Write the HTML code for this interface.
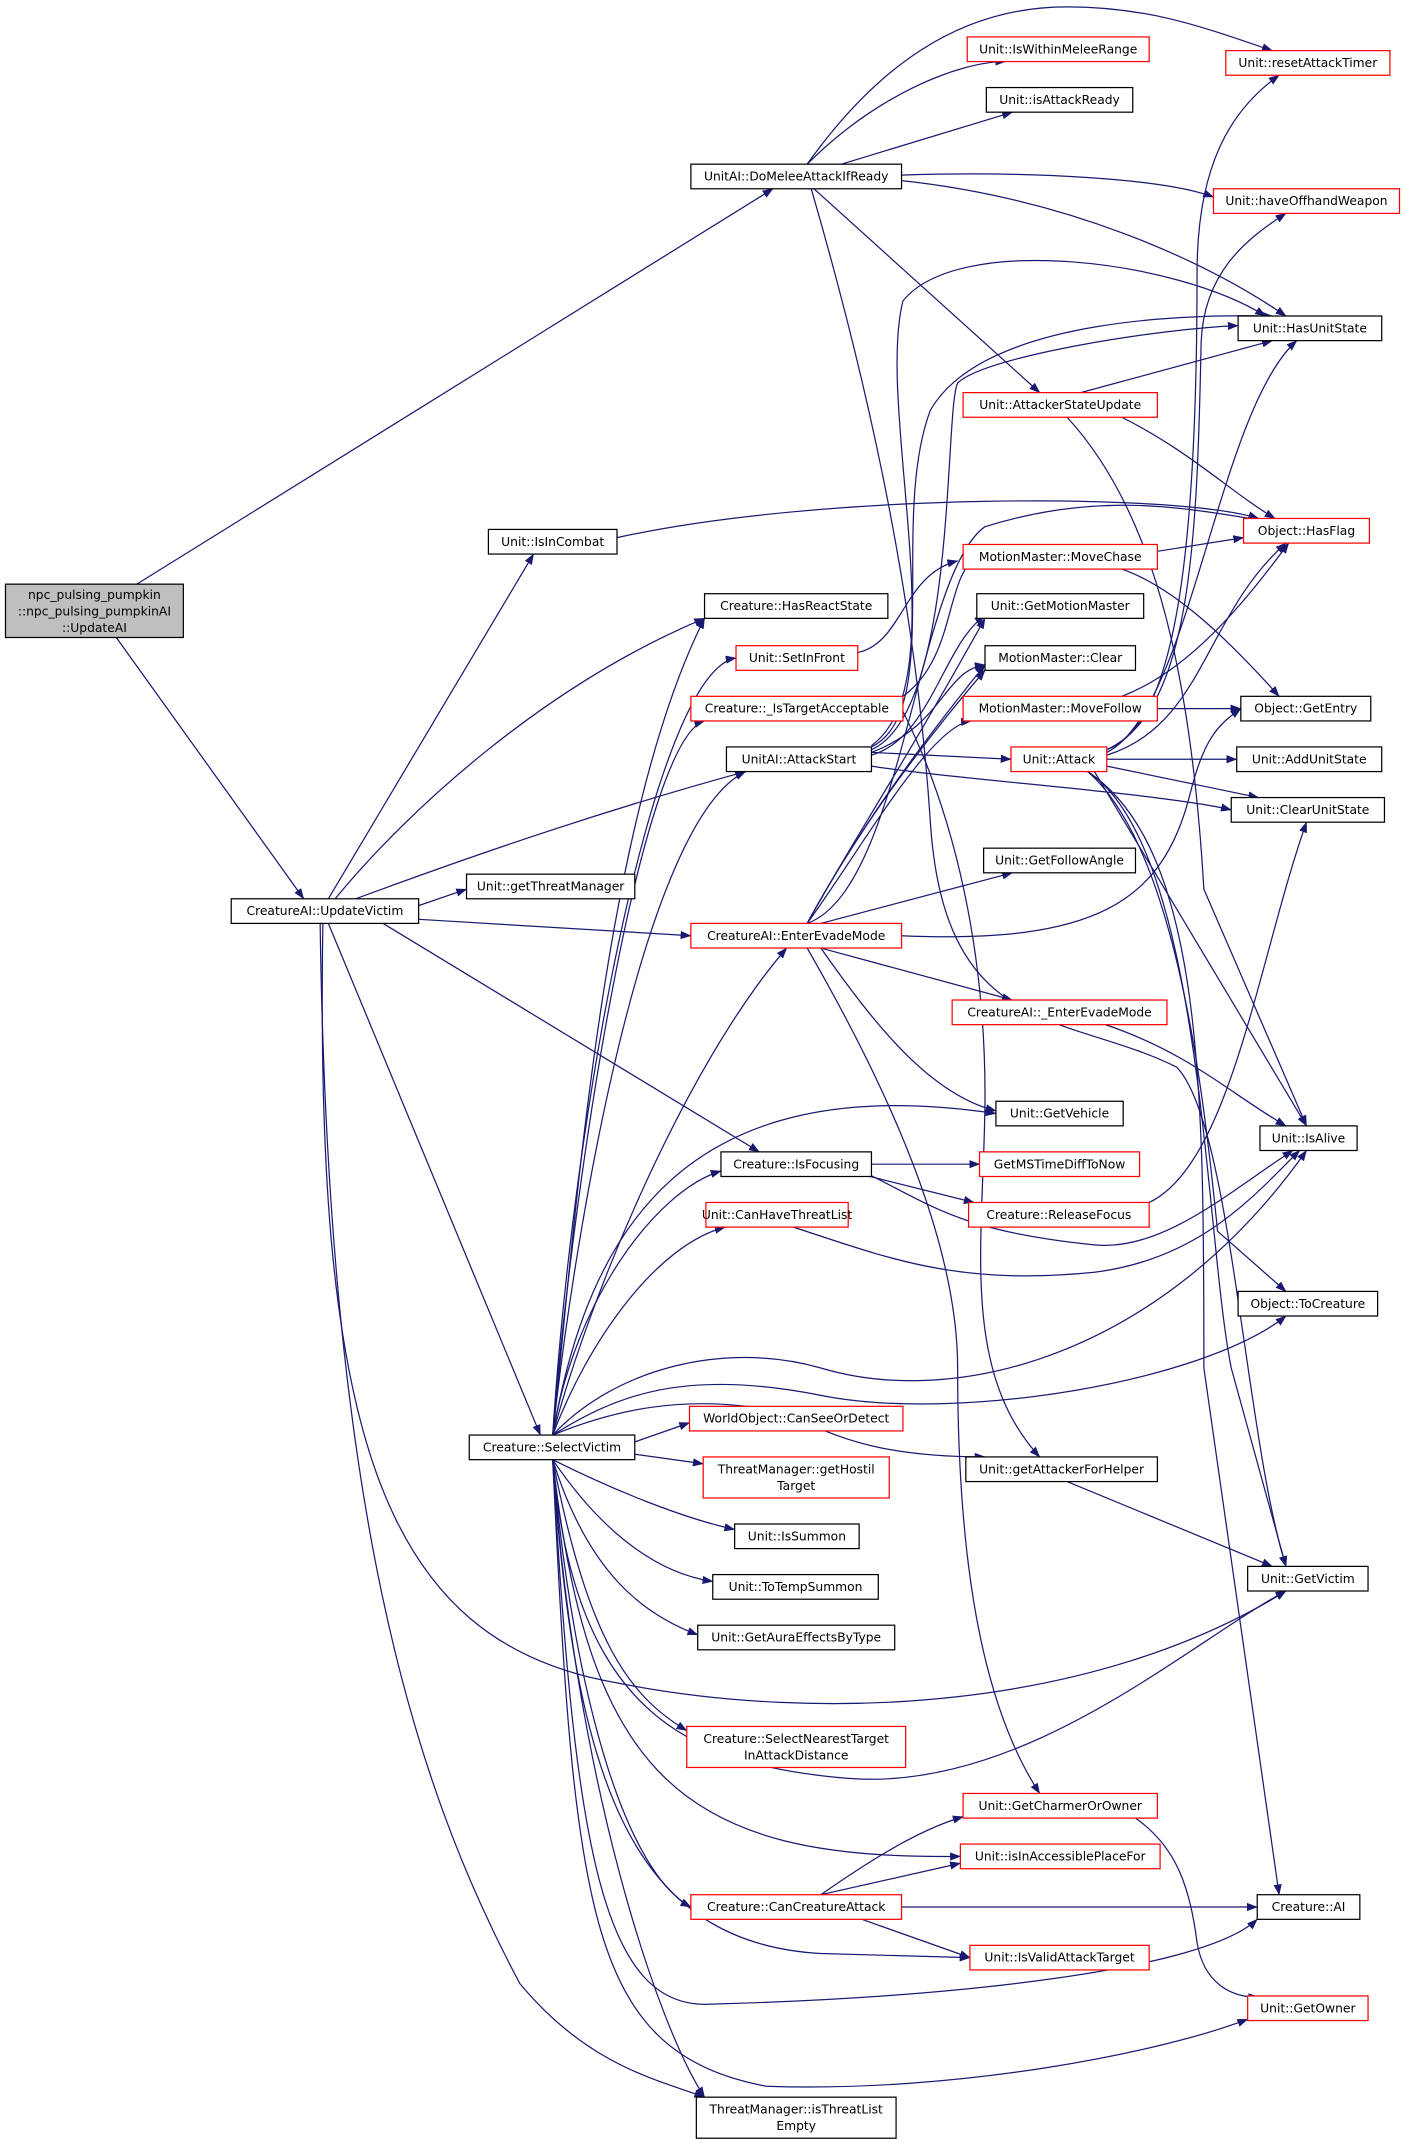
<!DOCTYPE html>
<html><head><meta charset="utf-8"><style>
html,body{margin:0;padding:0;background:#fff;}
svg{display:block;}
text{font-family:"DejaVu Sans","Liberation Sans",sans-serif;font-size:9px;fill:#000;text-anchor:middle;}
.n rect{fill:#fff;stroke:#000;stroke-width:0.9;}
.r rect{fill:#fff;stroke:#ff0000;stroke-width:0.9;}
.e path{fill:none;stroke:#191970;stroke-width:0.9;}
</style></head><body>
<svg width="1405" height="2143" viewBox="0 0 1027 1566.5" xmlns="http://www.w3.org/2000/svg">
<defs><marker id="a" markerWidth="8" markerHeight="6" refX="7.5" refY="3" orient="auto" markerUnits="userSpaceOnUse"><polygon points="0,0 8,3 0,6" fill="#191970"/></marker></defs>
<g class="e" marker-end="url(#a)">
<path d="M85,466 L222,657"/>
<path d="M100,427 L565,138"/>
<path d="M590,120 C640,70 700,45 735,45"/>
<path d="M590,120 C640,50 700,5 780,5 C840,5 880,20 930,37"/>
<path d="M615,120 L740,82"/>
<path d="M659,128 C750,125 850,130 887,144"/>
<path d="M659,132 C780,145 880,190 940,231"/>
<path d="M595,138 L760,287"/>
<path d="M593,138 C640,300 670,450 680,600 C690,760 780,740 860,780 C900,820 910,1050 940,1145"/>
<path d="M790,287 L930,249"/>
<path d="M820,305 C870,330 900,360 932,379"/>
<path d="M780,305 C840,370 870,480 880,650 L955,823"/>
<path d="M809,550 C870,520 890,300 948,249"/>
<path d="M809,552 C880,530 880,450 940,397"/>
<path d="M809,555 L904,555"/>
<path d="M809,560 L920,583"/>
<path d="M809,548 C860,530 875,400 875,200 C875,120 900,80 935,55"/>
<path d="M809,548 C870,520 875,400 878,250 C880,200 910,175 940,156"/>
<path d="M800,564 L955,823"/>
<path d="M795,564 C860,620 880,800 890,900 L940,944"/>
<path d="M795,564 C880,620 880,900 900,1000 L940,1145"/>
<path d="M795,564 C880,620 880,800 880,1000 L935,1385"/>
<path d="M659,684 C800,690 850,660 870,580 C880,540 890,530 907,518"/>
<path d="M846,403 L909,393"/>
<path d="M820,416 C860,430 900,470 935,509"/>
<path d="M846,518 L907,518"/>
<path d="M820,509 C870,490 910,440 942,397"/>
<path d="M637,550 L739,555"/>
<path d="M637,560 C700,570 850,580 900,592"/>
<path d="M637,552 C680,540 690,470 720,450"/>
<path d="M637,550 C690,530 690,490 720,486"/>
<path d="M637,548 C700,520 690,300 700,280 C720,260 850,240 905,238"/>
<path d="M637,546 C690,520 650,380 680,300 C720,230 880,230 930,231"/>
<path d="M637,545 C700,500 640,300 660,220 C700,170 860,190 925,231"/>
<path d="M627,477 C660,470 660,420 700,410"/>
<path d="M660,509 C700,480 690,420 715,407"/>
<path d="M660,520 C700,600 720,700 720,800 C720,900 700,1000 760,1065"/>
<path d="M306,662 L341,650"/>
<path d="M306,672 L505,684"/>
<path d="M240,657 L390,405"/>
<path d="M245,657 C300,590 400,500 515,452"/>
<path d="M260,657 C360,620 450,590 545,564"/>
<path d="M280,675 L555,842"/>
<path d="M240,675 L395,1049"/>
<path d="M236,675 C230,1050 280,1200 450,1230 C600,1260 800,1250 940,1163"/>
<path d="M234,675 C240,1100 300,1300 380,1450 C430,1510 480,1520 515,1533"/>
<path d="M451,393 C600,360 860,360 920,379"/>
<path d="M590,675 C620,620 660,560 720,490"/>
<path d="M590,675 C620,620 660,560 720,486"/>
<path d="M590,675 C620,620 660,560 720,452"/>
<path d="M590,675 C630,620 680,530 710,527"/>
<path d="M600,675 L740,638"/>
<path d="M600,693 L740,731"/>
<path d="M600,693 C640,750 680,800 728,812"/>
<path d="M590,693 C640,780 700,900 700,1000 C700,1150 720,1250 760,1311"/>
<path d="M590,675 C660,650 670,420 720,385 C800,360 860,370 920,380"/>
<path d="M808,749 C870,770 900,800 940,823"/>
<path d="M637,851 L716,851"/>
<path d="M620,856 L712,879"/>
<path d="M630,856 C680,880 700,900 800,910 C850,915 900,870 945,841"/>
<path d="M840,879 C900,850 920,700 955,601"/>
<path d="M580,897 C650,920 700,940 800,930 C880,920 920,870 950,841"/>
<path d="M404,1049 C420,900 440,600 515,452"/>
<path d="M404,1049 C420,800 480,490 538,481"/>
<path d="M404,1049 C420,850 470,540 515,527"/>
<path d="M404,1049 C420,900 470,600 545,564"/>
<path d="M404,1049 C430,950 500,780 575,693"/>
<path d="M404,1049 C430,900 500,780 728,814"/>
<path d="M404,1049 C420,950 480,870 527,856"/>
<path d="M404,1049 C430,980 480,910 530,897"/>
<path d="M404,1049 C450,1000 530,980 600,1000 C700,1030 850,990 955,841"/>
<path d="M404,1049 C450,1020 500,1000 600,1020 C700,1040 880,1010 940,962"/>
<path d="M404,1049 C450,1030 500,1020 560,1030 C600,1040 620,1065 720,1065"/>
<path d="M464,1054 L504,1040"/>
<path d="M464,1063 L514,1070"/>
<path d="M404,1067 C450,1090 500,1110 537,1118"/>
<path d="M404,1067 C440,1120 480,1150 521,1156"/>
<path d="M404,1067 C430,1150 470,1180 510,1195"/>
<path d="M404,1067 C430,1200 460,1240 502,1265"/>
<path d="M404,1067 C420,1250 500,1290 620,1300 C750,1310 870,1200 940,1163"/>
<path d="M404,1067 C430,1300 500,1360 702,1357"/>
<path d="M404,1067 C420,1250 460,1370 505,1394"/>
<path d="M404,1067 C420,1300 460,1420 600,1428 L709,1431"/>
<path d="M404,1067 C420,1350 440,1470 520,1465 C700,1460 880,1440 919,1403"/>
<path d="M404,1067 C420,1400 430,1500 560,1525 C700,1530 850,1500 912,1476"/>
<path d="M404,1067 C420,1300 480,1480 515,1533"/>
<path d="M600,1385 C650,1350 680,1335 704,1328"/>
<path d="M659,1394 L919,1394"/>
<path d="M630,1403 L709,1431"/>
<path d="M600,1385 L702,1362"/>
<path d="M780,1083 L930,1145"/>
<path d="M830,1329 C860,1350 870,1380 875,1420 C880,1450 900,1460 920,1460"/>
</g>
<g class="n"><rect x="4" y="427" width="130" height="39" style="fill:#bfbfbf"/><text x="69" y="438">npc_pulsing_pumpkin</text><text x="69" y="450">::npc_pulsing_pumpkinAI</text><text x="69" y="462">::UpdateAI</text></g>
<g class="n"><rect x="169" y="657" width="137" height="18"/><text x="237.5" y="669">CreatureAI::UpdateVictim</text></g>
<g class="n"><rect x="505" y="120" width="154" height="18"/><text x="582" y="132">UnitAI::DoMeleeAttackIfReady</text></g>
<g class="r"><rect x="707" y="27" width="133" height="18"/><text x="773.5" y="39">Unit::IsWithinMeleeRange</text></g>
<g class="n"><rect x="721" y="64" width="107" height="18"/><text x="774.5" y="76">Unit::isAttackReady</text></g>
<g class="r"><rect x="896" y="37" width="120" height="18"/><text x="956" y="49">Unit::resetAttackTimer</text></g>
<g class="r"><rect x="887" y="138" width="136" height="18"/><text x="955" y="150">Unit::haveOffhandWeapon</text></g>
<g class="n"><rect x="905" y="231" width="105" height="18"/><text x="957.5" y="243">Unit::HasUnitState</text></g>
<g class="r"><rect x="704" y="287" width="142" height="18"/><text x="775" y="299">Unit::AttackerStateUpdate</text></g>
<g class="n"><rect x="357" y="387" width="94" height="18"/><text x="404" y="399">Unit::IsInCombat</text></g>
<g class="r"><rect x="909" y="379" width="92" height="18"/><text x="955" y="391">Object::HasFlag</text></g>
<g class="n"><rect x="515" y="434" width="134" height="18"/><text x="582" y="446">Creature::HasReactState</text></g>
<g class="r"><rect x="704" y="398" width="142" height="18"/><text x="775" y="410">MotionMaster::MoveChase</text></g>
<g class="n"><rect x="714" y="434" width="122" height="18"/><text x="775" y="446">Unit::GetMotionMaster</text></g>
<g class="r"><rect x="538" y="472" width="89" height="18"/><text x="582.5" y="484">Unit::SetInFront</text></g>
<g class="n"><rect x="720" y="472" width="110" height="18"/><text x="775" y="484">MotionMaster::Clear</text></g>
<g class="r"><rect x="505" y="509" width="155" height="18"/><text x="582.5" y="521">Creature::_IsTargetAcceptable</text></g>
<g class="r"><rect x="704" y="509" width="142" height="18"/><text x="775" y="521">MotionMaster::MoveFollow</text></g>
<g class="n"><rect x="907" y="509" width="95" height="18"/><text x="954.5" y="521">Object::GetEntry</text></g>
<g class="n"><rect x="531" y="546" width="106" height="18"/><text x="584" y="558">UnitAI::AttackStart</text></g>
<g class="r"><rect x="739" y="546" width="70" height="18"/><text x="774" y="558">Unit::Attack</text></g>
<g class="n"><rect x="904" y="546" width="106" height="18"/><text x="957" y="558">Unit::AddUnitState</text></g>
<g class="n"><rect x="900" y="583" width="112" height="18"/><text x="956" y="595">Unit::ClearUnitState</text></g>
<g class="n"><rect x="719" y="620" width="111" height="18"/><text x="774.5" y="632">Unit::GetFollowAngle</text></g>
<g class="n"><rect x="341" y="639" width="123" height="18"/><text x="402.5" y="651">Unit::getThreatManager</text></g>
<g class="r"><rect x="505" y="675" width="154" height="18"/><text x="582" y="687">CreatureAI::EnterEvadeMode</text></g>
<g class="r"><rect x="696" y="731" width="157" height="18"/><text x="774.5" y="743">CreatureAI::_EnterEvadeMode</text></g>
<g class="n"><rect x="728" y="805" width="93" height="18"/><text x="774.5" y="817">Unit::GetVehicle</text></g>
<g class="n"><rect x="921" y="823" width="71" height="18"/><text x="956.5" y="835">Unit::IsAlive</text></g>
<g class="n"><rect x="527" y="842" width="110" height="18"/><text x="582" y="854">Creature::IsFocusing</text></g>
<g class="r"><rect x="716" y="842" width="117" height="18"/><text x="774.5" y="854">GetMSTimeDiffToNow</text></g>
<g class="r"><rect x="708" y="879" width="132" height="18"/><text x="774" y="891">Creature::ReleaseFocus</text></g>
<g class="r"><rect x="516" y="879" width="104" height="18"/><text x="568" y="891">Unit::CanHaveThreatList</text></g>
<g class="n"><rect x="905" y="944" width="102" height="18"/><text x="956" y="956">Object::ToCreature</text></g>
<g class="n"><rect x="343" y="1049" width="121" height="18"/><text x="403.5" y="1061">Creature::SelectVictim</text></g>
<g class="r"><rect x="504" y="1028" width="156" height="18"/><text x="582" y="1040">WorldObject::CanSeeOrDetect</text></g>
<g class="r"><rect x="514" y="1065" width="136" height="30"/><text x="582" y="1077">ThreatManager::getHostil</text><text x="582" y="1089">Target</text></g>
<g class="n"><rect x="706" y="1065" width="140" height="18"/><text x="776" y="1077">Unit::getAttackerForHelper</text></g>
<g class="n"><rect x="537" y="1114" width="91" height="18"/><text x="582.5" y="1126">Unit::IsSummon</text></g>
<g class="n"><rect x="521" y="1151" width="121" height="18"/><text x="581.5" y="1163">Unit::ToTempSummon</text></g>
<g class="n"><rect x="510" y="1188" width="144" height="18"/><text x="582" y="1200">Unit::GetAuraEffectsByType</text></g>
<g class="n"><rect x="912" y="1145" width="88" height="18"/><text x="956" y="1157">Unit::GetVictim</text></g>
<g class="r"><rect x="502" y="1262" width="160" height="30"/><text x="582" y="1274">Creature::SelectNearestTarget</text><text x="582" y="1286">InAttackDistance</text></g>
<g class="r"><rect x="704" y="1311" width="142" height="18"/><text x="775" y="1323">Unit::GetCharmerOrOwner</text></g>
<g class="r"><rect x="702" y="1348" width="146" height="18"/><text x="775" y="1360">Unit::isInAccessiblePlaceFor</text></g>
<g class="r"><rect x="505" y="1385" width="154" height="18"/><text x="582" y="1397">Creature::CanCreatureAttack</text></g>
<g class="n"><rect x="919" y="1385" width="75" height="18"/><text x="956.5" y="1397">Creature::AI</text></g>
<g class="r"><rect x="709" y="1422" width="131" height="18"/><text x="774.5" y="1434">Unit::IsValidAttackTarget</text></g>
<g class="r"><rect x="912" y="1459" width="88" height="18"/><text x="956" y="1471">Unit::GetOwner</text></g>
<g class="n"><rect x="509" y="1533" width="146" height="30"/><text x="582" y="1545">ThreatManager::isThreatList</text><text x="582" y="1557">Empty</text></g>
</svg>
</body></html>
